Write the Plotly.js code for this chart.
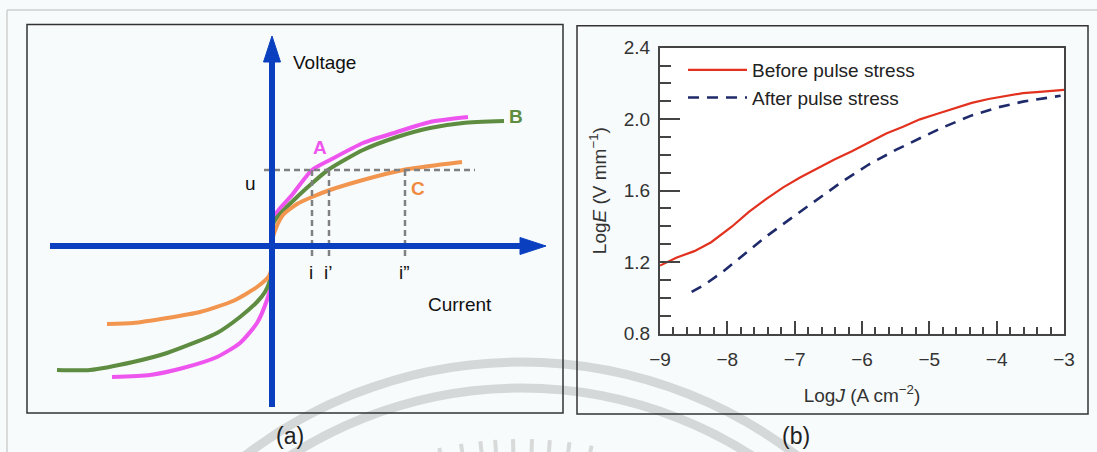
<!DOCTYPE html>
<html>
<head>
<meta charset="utf-8">
<script src="https://cdn.plot.ly/plotly-3.0.1.min.js"></script>
<style>html,body{margin:0;padding:0;background:#f7fbfc;}#chart{width:1097px;height:452px;}</style>
</head>
<body>
<div id="chart"></div>
<script>
// ---------- Panel (b) data ----------
const logJ_before = [-9, -8.75, -8.49, -8.24, -7.93, -7.68, -7.42, -7.17, -6.92, -6.66, -6.41, -6.15, -5.9, -5.64, -5.39, -5.14, -4.88, -4.63, -4.37, -4.12, -3.87, -3.61, -3.36, -3.0];
const logE_before = [1.18, 1.225, 1.261, 1.311, 1.399, 1.481, 1.554, 1.618, 1.673, 1.724, 1.774, 1.82, 1.871, 1.92, 1.957, 1.999, 2.03, 2.061, 2.091, 2.113, 2.131, 2.146, 2.153, 2.164];
const logJ_after = [-8.53, -8.34, -8.08, -7.78, -7.42, -7.02, -6.66, -6.31, -5.9, -5.49, -5.14, -4.78, -4.37, -3.97, -3.61, -3.26, -3.05];
const logE_after = [1.033, 1.073, 1.142, 1.234, 1.344, 1.454, 1.554, 1.646, 1.746, 1.829, 1.893, 1.957, 2.021, 2.067, 2.098, 2.116, 2.131];
const seriesNames = ["Before pulse stress", "After pulse stress"];
const yTicks = [0.8, 1.2, 1.6, 2.0, 2.4];
const xTicks = [-9, -8, -7, -6, -5, -4, -3];

// ---------- Panel (a) schematic data (current, voltage in arbitrary units) ----------
const curveA_I = [-16.0, -12.2, -8.9, -5.5, -3.2, -1.5, -0.5, -0.1, 0, 0.1, 2.0, 4.0, 5.8, 9.1, 12.5, 15.8, 19.6];
const curveA_U = [-13.1, -12.9, -12.2, -11.1, -9.7, -7.7, -5.4, -3.9, -1.9, 2.8, 5.1, 7.6, 8.6, 10.3, 11.4, 12.4, 12.9];
const curveB_I = [-21.5, -18.2, -13.9, -10.5, -5.5, -3.2, -1.5, -0.7, -0.2, 0, 0.2, 2.5, 5.6, 9.1, 12.5, 15.8, 19.1, 23.2];
const curveB_U = [-12.4, -12.4, -11.6, -10.7, -8.7, -7.1, -5.6, -4.6, -3.4, -1.9, 2.4, 4.9, 7.6, 9.6, 10.9, 11.8, 12.3, 12.5];
const curveC_I = [-16.5, -13.9, -10.5, -7.2, -3.9, -1.5, -0.3, 0, 0.05, 0.4, 1.1, 2.5, 4.0, 5.8, 9.1, 13.1, 15.8, 19.0];
const curveC_U = [-7.8, -7.7, -7.2, -6.6, -5.5, -4.1, -3.0, -1.9, 0.6, 1.8, 3.1, 4.2, 4.9, 5.6, 6.6, 7.6, 8.0, 8.4];
const curveLabels = ["A", "B", "C"];
const labelI = [4.8, 24.4, 14.6];
const labelU = [9.9, 13.0, 5.8];
const uLevel = 7.6;
const uLabel = "u";
const iValues = [4.0, 5.7, 13.3];
const iLabels = ["i", "i\u2019", "i\u201D"];
const guideStartI = -0.8, guideEndI = 20.3, guideBottomU = -1.2;

const W = 1097, H = 452;
const PX = x => x / W;
const PY = y => 1 - y / H;
const FONT = "Liberation Sans, Arial, sans-serif";

const colA = "#ee55ee", colB = "#5e8c40", colC = "#f2954f";

const traces = [];
[[curveA_I, curveA_U, colA], [curveB_I, curveB_U, colB], [curveC_I, curveC_U, colC]].forEach(c => {
  traces.push({x: c[0], y: c[1], xaxis: "x2", yaxis: "y2", mode: "lines", showlegend: false,
    line: {color: c[2], width: 4, shape: "spline", smoothing: 0.6}, hoverinfo: "skip"});
});
traces.push({x: [guideStartI, guideEndI], y: [uLevel, uLevel], xaxis: "x2", yaxis: "y2", mode: "lines",
  showlegend: false, line: {color: "#808080", width: 2.5, dash: "6px,4px"}, hoverinfo: "skip"});
iValues.forEach(v => {
  traces.push({x: [v, v], y: [uLevel, guideBottomU], xaxis: "x2", yaxis: "y2", mode: "lines",
    showlegend: false, line: {color: "#808080", width: 2.5, dash: "6px,4px"}, hoverinfo: "skip"});
});
traces.push({x: logJ_before, y: logE_before, name: seriesNames[0], mode: "lines",
  line: {color: "#e2321f", width: 2.2}});
traces.push({x: logJ_after, y: logE_after, name: seriesNames[1], mode: "lines",
  line: {color: "#1f2a6b", width: 2.6, dash: "11px,8px"}});

const annotations = [];
const txt = (x, y, text, opts) => Object.assign({x: x, y: y, xref: "x2", yref: "y2", text: text, showarrow: false,
  font: {family: FONT, size: 19, color: "#111"}}, opts || {});
annotations.push(txt(1.9, 18.4, "Voltage", {xanchor: "left"}));
annotations.push(txt(15.4, -5.8, "Current", {xanchor: "left"}));
annotations.push(txt(-2.2, uLevel - 1.3, uLabel));
const labCols = [colA, colB, "#f08a3e"];
curveLabels.forEach((l, k) => annotations.push(txt(labelI[k], labelU[k], "<b>" + l + "</b>", {font: {family: FONT, size: 19, color: labCols[k]}})));
iValues.forEach((v, k) => annotations.push(txt(v - 0.1, -2.6, iLabels[k])));
annotations.push({x: PX(274), y: PY(451), xref: "paper", yref: "paper", yanchor: "bottom", text: "(a)", showarrow: false, font: {family: FONT, size: 23, color: "#222"}});
annotations.push({x: PX(812), y: PY(451), xref: "paper", yref: "paper", yanchor: "bottom", text: "(b)", showarrow: false, font: {family: FONT, size: 23, color: "#222"}});

const blue = "#0a40c0";
const shapes = [
  {type: "circle", xref: "paper", yref: "paper", x0: PX(521 - 453), x1: PX(521 + 453), y0: PY(815 + 453), y1: PY(815 - 453), line: {color: "#d5d8d8", width: 9}, layer: "below"},
  {type: "circle", xref: "paper", yref: "paper", x0: PX(521 - 427), x1: PX(521 + 427), y0: PY(815 + 427), y1: PY(815 - 427), line: {color: "#d5d8d8", width: 9}, layer: "below"},
  {type: "line", xref: "paper", yref: "paper", x0: PX(7), x1: PX(1100), y0: PY(10), y1: PY(10), line: {color: "#cfcfcf", width: 1.5}},
  {type: "line", xref: "paper", yref: "paper", x0: PX(7), x1: PX(7), y0: PY(10), y1: PY(460), line: {color: "#cfcfcf", width: 1.5}},
  {type: "rect", xref: "paper", yref: "paper", x0: PX(27), x1: PX(563), y0: PY(413), y1: PY(24.5), line: {color: "#333", width: 1.5}},
  {type: "rect", xref: "paper", yref: "paper", x0: PX(577), x1: PX(1088), y0: PY(414), y1: PY(25.7), line: {color: "#333", width: 1.5}},
  {type: "rect", xref: "x", yref: "y", x0: -9, x1: -3, y0: 0.8, y1: 2.4, fillcolor: "#ffffff", line: {width: 0}, layer: "below"},
  {type: "line", xref: "x2", yref: "y2", x0: 0, x1: 0, y0: -16.1, y1: 18.6, line: {color: blue, width: 6}, layer: "above"},
  {type: "path", xref: "x2", yref: "y2", path: "M -0.85,18.4 L 0,21.0 L 0.85,18.4 Z", fillcolor: blue, line: {color: blue, width: 1}, layer: "above"},
  {type: "line", xref: "x2", yref: "y2", x0: -22.2, x1: 25.0, y0: 0, y1: 0, line: {color: blue, width: 6}, layer: "above"},
  {type: "path", xref: "x2", yref: "y2", path: "M 24.8,-0.85 L 27.4,0 L 24.8,0.85 Z", fillcolor: blue, line: {color: blue, width: 1}, layer: "above"}
];
const rayX = [437, 460, 480, 495, 513, 532, 550, 570, 593];
rayX.forEach(x => {
  const dx = x - 521;
  const len = Math.sqrt(dx * dx + 377 * 377);
  const ux = dx / len, uy = -377 / len;
  const r0 = 360, r1 = 376;
  shapes.push({type: "line", xref: "paper", yref: "paper", x0: PX(521 + ux * r0), y0: PY(815 + uy * r0),
    x1: PX(521 + ux * r1), y1: PY(815 + uy * r1), line: {color: "#d8dada", width: 4}, layer: "below"});
});

const layout = {
  width: W, height: H,
  margin: {l: 0, r: 0, t: 0, b: 0},
  paper_bgcolor: "#f7fbfc",
  plot_bgcolor: "rgba(0,0,0,0)",
  font: {family: FONT, size: 19, color: "#222"},
  showlegend: true,
  legend: {x: PX(683), y: PY(51), xanchor: "left", yanchor: "top", bgcolor: "rgba(0,0,0,0)",
    font: {family: FONT, size: 19, color: "#222"}, itemwidth: 59},
  xaxis: {domain: [PX(660), PX(1064)], anchor: "y", range: [-9, -3], tickvals: xTicks,
    ticks: "inside", ticklen: 13, tickwidth: 2, tickcolor: "#444", showline: true, mirror: true, linecolor: "#444", linewidth: 2,
    showgrid: false, zeroline: false, ticklabelstandoff: 8,
    minor: {dtick: 0.2, ticks: "inside", ticklen: 7, tickwidth: 2, tickcolor: "#444", showgrid: false},
    tickfont: {family: FONT, size: 19, color: "#333"},
    title: {text: "Log<i>J</i> (A cm<sup>\u22122</sup>)", font: {family: FONT, size: 19, color: "#333"}, standoff: 19}},
  yaxis: {domain: [PY(333.5), PY(47.7)], anchor: "x", range: [0.8, 2.4], tickvals: yTicks, ticktext: yTicks.map(v => v.toFixed(1)),
    ticks: "inside", ticklen: 20, tickwidth: 2, tickcolor: "#444", showline: true, mirror: true, linecolor: "#444", linewidth: 2,
    showgrid: false, zeroline: false, ticklabelstandoff: 4,
    minor: {dtick: 0.1, ticks: "inside", ticklen: 11, tickwidth: 2, tickcolor: "#444", showgrid: false},
    tickfont: {family: FONT, size: 19, color: "#333"},
    title: {text: "Log<i>E</i> (V mm<sup>\u22121</sup>)", font: {family: FONT, size: 19, color: "#333"}, standoff: 12}},
  xaxis2: {domain: [PX(27), PX(563)], anchor: "y2", range: [-24.5, 29.1], visible: false, fixedrange: true},
  yaxis2: {domain: [PY(413), PY(24.5)], anchor: "x2", range: [-16.7, 22.15], visible: false, fixedrange: true},
  shapes: shapes,
  annotations: annotations
};

Plotly.newPlot("chart", traces, layout, {displayModeBar: false, staticPlot: true});
</script>
</body>
</html>
